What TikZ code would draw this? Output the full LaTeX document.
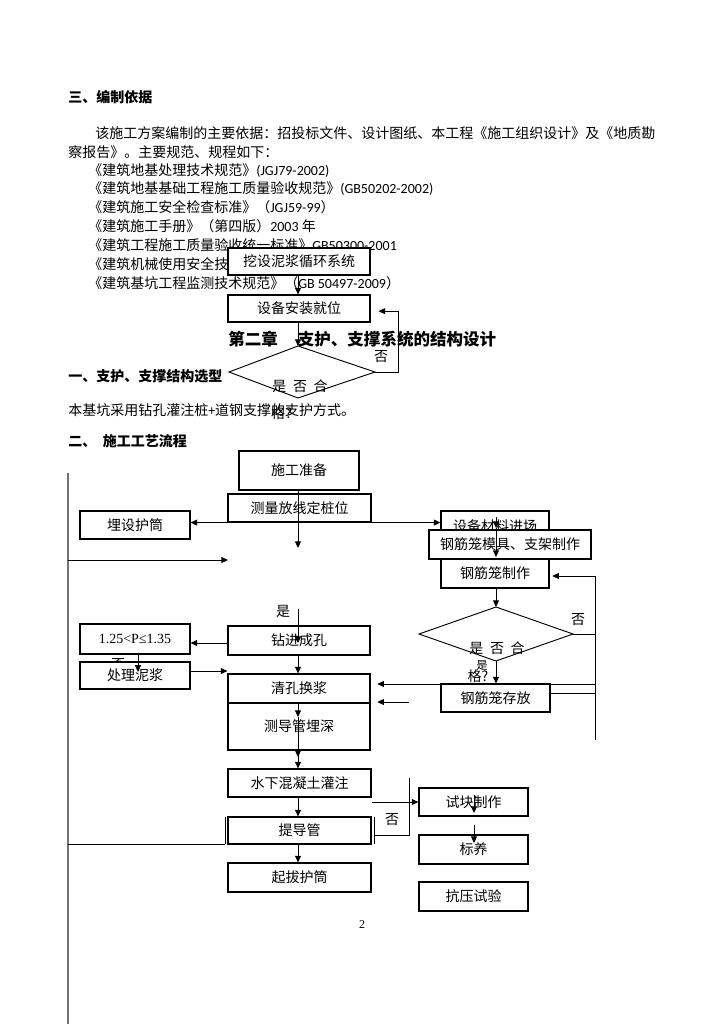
\documentclass[tikz,border=0pt]{standalone}
\usepackage{fontspec}
\setmainfont{Noto Sans CJK SC}
\newfontfamily\lat{Carlito}
\newfontfamily\tms{Liberation Serif}
\usetikzlibrary{arrows.meta}
\begin{document}
\begin{tikzpicture}[x=0.75pt,y=-0.75pt,
  bx/.style={draw, fill=white, inner sep=0pt, line width=0.85pt, font=\fontsize{10.5}{12}\selectfont},
  sz/.style 2 args={minimum width=#1*0.75pt, minimum height=#2*0.75pt},
  arr/.style={-{Triangle[length=5pt,width=4.5pt]}, line width=0.7pt},
  ln/.style={line width=0.7pt},
  txt/.style={inner sep=0pt, anchor=base west, font=\fontsize{10.5}{12}\selectfont},
  hd/.style={inner sep=0pt, anchor=base west, font=\fontsize{10.5}{12}\selectfont\bfseries},
  lb/.style={inner sep=0pt, font=\fontsize{10.5}{12}\selectfont},
]
\fill[white] (0,0) rectangle (724,1024);
\useasboundingbox (0,0) rectangle (724,1024);

% ---------- body text ----------
\node[hd] (h1) at (68,103) {三、编制依据};
\node[txt] (p1) at (95,138) {该施工方案编制的主要依据：招投标文件、设计图纸、本工程《施工组织设计》及《地质勘};
\node[txt] (p2) at (68,157) {察报告》。主要规范、规程如下：};
\node[txt] (l1) at (88,175) {《建筑地基处理技术规范》{\lat (JGJ79-2002)}};
\node[txt] (l2) at (88,193) {《建筑地基基础工程施工质量验收规范》{\lat (GB50202-2002)}};
\node[txt] (l3) at (88,212) {《建筑施工安全检查标准》（{\lat JGJ59-99}）};
\node[txt] (l4) at (88,231) {《建筑施工手册》（第四版）{\lat 2003} 年};
\node[txt] (l5) at (88,250) {《建筑工程施工质量验收统一标准》{\lat GB50300-2001}};
\node[txt] (l6) at (88,269) {《建筑机械使用安全技};
\node[txt] (l7) at (88,288) {《建筑基坑工程监测技术规范》（{\lat GB 50497-2009}）};
\node[inner sep=0pt, anchor=base west, font=\fontsize{12.4}{14}\selectfont\bfseries] (ch) at (228,345) {第二章\hspace{15pt}支护、支撑系统的结构设计};
\node[hd] (h2) at (68,381) {一、支护、支撑结构选型};
\node[txt] (p3) at (68,415) {本基坑采用钻孔灌注桩{\lat +}道钢支撑的支护方式。};
\node[hd] (h3) at (68,446) {二、\hspace{5pt}施工工艺流程};

% ---------- labels ----------
\node[lb] (q1a) at (381,357) {否};
\node[lb] (q1b) at (300,386) {是\hspace{5pt}否\hspace{5pt}合};
\node[lb] (q1c) at (285,413) {格？};
\node[lb] (y1) at (283,611) {是};
\node[lb] (hid) at (118,665) {否};
\node[lb] (q2a) at (578,620) {否};
\node[lb] (q2b) at (497,648) {是\hspace{5pt}否\hspace{5pt}合};
\node[lb] (q2c) at (478,676) {格?};
\node[lb, font=\fontsize{8.5}{10}\selectfont] (q2d) at (482,665) {是};
\node[lb] (q3) at (392,820) {否};
\node[inner sep=0pt, font=\tms\fontsize{9}{10}\selectfont] (pg) at (362,925) {2};

% ---------- boxes ----------
\node[bx, sz={142}{27}] (n1) at (299,261.5) {挖设泥浆循环系统};
\node[bx, sz={142}{27}] (n2) at (299,308.5) {设备安装就位};

\node[bx, sz={120}{39}] (z1) at (299,470.5) {施工准备};
\node[bx, sz={143}{28}] (z2) at (299.5,508) {测量放线定桩位};
\node[bx, sz={110}{28}] (z3) at (135,525) {埋设护筒};
\node[bx, sz={142}{29}] (z4) at (299,640.5) {钻进成孔};
\node[bx, sz={110}{30}, font=\tms\fontsize{10.5}{12}\selectfont] (z5) at (135,639) {1.25<P≤1.35};
\node[bx, sz={110}{27}] (z6) at (135,675.5) {处理泥浆};
\node[bx, sz={142}{29}] (z7) at (299,688.5) {清孔换浆};
\node[bx, sz={142}{47}] (z8) at (299,726.5) {测导管埋深};
\node[bx, sz={143}{28}] (z9) at (299.5,783) {水下混凝土灌注};
\node[bx, sz={143}{27}] (z10) at (299.5,830.5) {提导管};
\node[bx, sz={143}{29}] (z11) at (299.5,877.5) {起拔护筒};

\node[bx, sz={108}{30}] (r1) at (495,526) {设备材料进场};
\node[bx, sz={162}{29}] (r2) at (510,544.5) {钢筋笼模具、支架制作};
\node[bx, sz={108}{29}] (r3) at (495,573.5) {钢筋笼制作};
\node[bx, sz={109}{28}] (r4) at (495.5,698) {钢筋笼存放};

\node[bx, sz={109}{28}] (s1) at (473.5,802) {试块制作};
\node[bx, sz={109}{29}] (s2) at (473.5,849.5) {标养};
\node[bx, sz={109}{29}] (s3) at (473.5,896.5) {抗压试验};

% ---------- diamonds ----------
\coordinate (d1t) at (298,346);
\coordinate (d1r) at (375,372);
\coordinate (d1b) at (298,398);
\coordinate (d1l) at (229,372);
\draw[ln] (d1t) -- (d1r) -- (d1b) -- (d1l) -- cycle;

\coordinate (d2t) at (496,607);
\coordinate (d2r) at (573,634);
\coordinate (d2b) at (496,661);
\coordinate (d2l) at (419,634);
\draw[ln] (d2t) -- (d2r) -- (d2b) -- (d2l) -- cycle;

% ---------- coordinates for free ends ----------
\coordinate (L1) at (68,473);
\coordinate (L2) at (68,1024);
\coordinate (La) at (68,560);
\coordinate (Lb) at (228,560);
\coordinate (c1) at (298,548);
\coordinate (c2) at (298,609);
\coordinate (c3) at (298,643);
\coordinate (c4) at (298,717);
\coordinate (c5) at (298,757);
\coordinate (R1) at (595,576);
\coordinate (R2) at (595,740);
\coordinate (R3) at (595,684);
\coordinate (R4) at (595,693);
\coordinate (R5) at (409,702);
\coordinate (B1) at (409,778);
\coordinate (B2) at (409,835);
\coordinate (B3) at (372,802);

% ---------- connectors: top ----------
\draw[arr] (n1.south -| d1t) -- (n2.north -| d1t);
\draw[arr] (n2.south -| d1t) -- (d1t);
\draw[arr] (d1r) -- (398,372) |- ([xshift=6pt,yshift=-2pt]n2.east);

% ---------- connectors: main flow ----------
\draw[line width=1pt, black!55] (L1) -- (L2);
\draw[arr] (La) -- (Lb);
\draw[arr] (z1.south -| c1) -- (c1);
\draw[arr] (z2.south) -- (z3.east |- z2.south);
\draw[arr] (z2.south) -- (r1.west |- z2.south);
\draw[arr] (c2) -- (c3);
\draw[arr] (z4.south -| c1) -- (z7.north -| c1);
\draw[arr] (z4.west |- c3) -- (z5.east |- c3);
\draw[arr] ([xshift=2.25pt]z5.south) -- ([xshift=2.25pt,yshift=-13pt]z5.south);
\draw[arr] (z6.east |- 0,671) -- (z7.west |- 0,671);
\draw[arr] (z7.south -| c1) -- (c4);
\draw[arr] (c4) -- (c5);
\draw[arr] (z8.south -| c1) -- (z9.north -| c1);
\draw[arr] (z9.south -| c1) -- (z10.north -| c1);
\draw[arr] (z10.south -| c1) -- (z11.north -| c1);
\draw[ln] (225,817) -- (225,844);
\draw[ln] (374,817) -- (374,844);
\draw[ln] (68,844) -- (225,844);

% ---------- connectors: right ----------
\draw[arr] (496,517) -- (496,528);
\draw[arr] (496,528) -- (496,557);
\draw[arr] (r3.south -| d2t) -- (d2t);
\draw[arr] (d2b) -- (r4.north -| d2b);
\draw[ln] (R1) -- (R2);
\draw[arr] (R1) -- ([xshift=2pt]r3.east |- R1);
\draw[ln] (d2r) -- (d2r -| R1);
\draw[arr] (R3) -- ([xshift=5pt]z7.east |- R3);
\draw[ln] (r4.east |- R4) -- (R4);
\draw[arr] (R5) -- ([xshift=5pt]z7.east |- R5);

% ---------- connectors: bottom right ----------
\draw[ln] (374,835) -- (B2) -- (B1);
\draw[arr] (B3) -- (s1.west |- B3);
\draw[arr] (474,795) -- (474,813);
\draw[arr] (474,825) -- (474,843);
\end{tikzpicture}
\end{document}
